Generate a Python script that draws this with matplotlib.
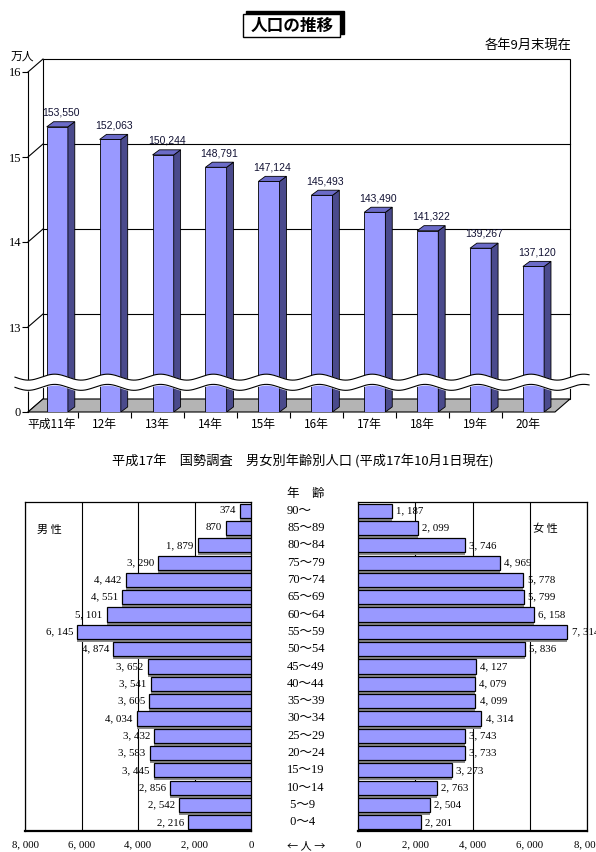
import matplotlib
matplotlib.use("Agg")
import matplotlib.pyplot as plt
import matplotlib.transforms as mtransforms
import numpy as np
from matplotlib.patches import Polygon, Rectangle

W, H = 596, 852
JP = ["Noto Sans CJK JP", "DejaVu Sans"]
SERIF = ["Liberation Serif", "Noto Sans CJK JP", "DejaVu Sans"]

# population trend (people, end of September each year)
years = ["平成11年", "12年", "13年", "14年", "15年", "16年", "17年", "18年", "19年", "20年"]
population = [153550, 152063, 150244, 148791, 147124, 145493, 143490, 141322, 139267, 137120]
ytick_vals = [0, 130000, 140000, 150000, 160000]
ytick_labels = ["0", "13", "14", "15", "16"]

# 2005 census, population by sex and age group
ages = ["90～", "85～89", "80～84", "75～79", "70～74", "65～69", "60～64", "55～59",
        "50～54", "45～49", "40～44", "35～39", "30～34", "25～29", "20～24",
        "15～19", "10～14", " 5～9", " 0～4"]
male = [374, 870, 1879, 3290, 4442, 4551, 5101, 6145, 4874, 3652, 3541, 3605,
        4034, 3432, 3583, 3445, 2856, 2542, 2216]
female = [1187, 2099, 3746, 4969, 5778, 5799, 6158, 7314, 5836, 4127, 4079, 4099,
          4314, 3743, 3733, 3273, 2763, 2504, 2201]
pyr_ticks = [0, 2000, 4000, 6000, 8000]

BAR = "#9999ff"
BAR_SIDE = "#4a4a8c"
BAR_TOP = "#6b6bc8"


def rect(l, t, r, b):
    return [l / W, 1 - b / H, (r - l) / W, (b - t) / H]


def yscale(v):
    # broken axis: 0 stays at the floor, 120,000 and above are drawn linearly
    v = np.asarray(v, dtype=float) / 10000
    return np.where(v > 0, v - 12, 0)


def fmt_jp(v):
    return f"{v:,}".replace(",", ", ")


fig = plt.figure(figsize=(W / 100, H / 100), dpi=100)

# title box with shadow
fig.patches.append(Rectangle((246 / W, 1 - 34 / H), 98 / W, 23 / H,
                             transform=fig.transFigure, fc="black", ec="black"))
fig.patches.append(Rectangle((243 / W, 1 - 37 / H), 97 / W, 23 / H,
                             transform=fig.transFigure, fc="white", ec="black", lw=1))
fig.text(292 / W, 1 - 26 / H, "人口の推移", ha="center", va="center",
         fontsize=12, fontweight="bold", family=JP)
fig.text(572 / W, 1 - 45 / H, "各年9月末現在", ha="right", va="center",
         fontsize=9.5, family=JP)

# ---- top: pseudo-3D bar chart ----
ax = fig.add_axes(rect(28, 72, 555, 412))
x0, x1 = -0.454, 9.506
ax.set_xlim(x0, x1)
ax.set_ylim(0, 4)
dx, dy = 15 / 52.9, 13 / 85       # depth of the box
bw, bdx, bdy = 0.4, 0.13, 0.06    # bar width and depth
shift = 0.1

xs = np.arange(len(years))
hts = yscale(population)

ax.add_patch(Rectangle((x0 + dx, dy), x1 - x0, 4, fc="white", ec="black",
                       lw=0.8, clip_on=False, zorder=0))
for p in yscale(ytick_vals):
    ax.plot([x0, x0 + dx], [p, p + dy], color="black", lw=0.8, clip_on=False, zorder=1)
    if 0 < p < 4:
        ax.plot([x0 + dx, x1 + dx], [p + dy, p + dy], color="black", lw=0.8,
                clip_on=False, zorder=1)
ax.add_patch(Polygon([(x0, 0), (x1, 0), (x1 + dx, dy), (x0 + dx, dy)],
                     closed=True, fc="#b4b4b4", ec="black", lw=0.8, clip_on=False, zorder=1))

for xi, h, v in zip(xs, hts, population):
    l, r = xi + shift - bw / 2, xi + shift + bw / 2
    ax.add_patch(Rectangle((l, 0), bw, h, fc=BAR, ec="black", lw=0.6, zorder=3))
    ax.add_patch(Polygon([(r, 0), (r + bdx, bdy), (r + bdx, h + bdy), (r, h)],
                         closed=True, fc=BAR_SIDE, ec="black", lw=0.6, zorder=3))
    ax.add_patch(Polygon([(l, h), (r, h), (r + bdx, h + bdy), (l + bdx, h + bdy)],
                         closed=True, fc=BAR_TOP, ec="black", lw=0.6, zorder=3))
    ax.annotate(f"{v:,}", (xi + shift + bdx / 2, h + bdy), xytext=(0, 3),
                textcoords="offset points", ha="center", va="bottom",
                fontsize=7.5, family="Liberation Sans", color="#111133")

# wavy break band
wx = np.linspace(-0.70, 10.15, 500)
wc = 0.35 + 0.035 * np.sin(2 * np.pi * (wx + 0.2))
ax.fill_between(wx, wc - 0.06, wc + 0.06, color="white", zorder=6, clip_on=False)
ax.plot(wx, wc - 0.06, color="black", lw=0.8, zorder=7, clip_on=False)
ax.plot(wx, wc + 0.06, color="black", lw=0.8, zorder=7, clip_on=False)

for s in ["top", "right", "bottom"]:
    ax.spines[s].set_visible(False)
ax.spines["left"].set_linewidth(0.8)
ax.set_yticks(yscale(ytick_vals))
ax.set_yticklabels(ytick_labels, family=SERIF, fontsize=9)
ax.tick_params(axis="y", length=4, width=0.8, pad=1)
ax.set_xticks(xs)
ax.set_xticklabels(years, family=JP, fontsize=8.5)
ax.set_xticks(xs[:-1] + 0.5, minor=True)
ax.tick_params(axis="x", which="major", length=0, pad=4)
ax.tick_params(axis="x", which="minor", length=4, width=0.8)
ax.patch.set_visible(False)
fig.text(22 / W, 1 - 56 / H, "万人", ha="center", va="center", fontsize=8.5, family=JP)

# ---- bottom: population pyramid ----
fig.text(303 / W, 1 - 461 / H,
         "平成17年　国勢調査　男女別年齢別人口 (平成17年10月1日現在)",
         ha="center", va="center", fontsize=9.5, family=JP)

axL = fig.add_axes(rect(25, 502, 251, 831))
axR = fig.add_axes(rect(358, 502, 587, 831))
rows = np.arange(len(ages))
shadow = mtransforms.ScaledTranslation(0, -3 / 100, fig.dpi_scale_trans)

for a, vals, side in [(axL, male, -1), (axR, female, 1)]:
    a.barh(rows, vals, height=0.82, color="#8c8c8c", transform=a.transData + shadow, zorder=2)
    a.barh(rows, vals, height=0.82, color=BAR, edgecolor="black", lw=0.9, zorder=3)
    for yi, v in zip(rows, vals):
        a.annotate(fmt_jp(v), (v, yi), xytext=(3 * side, 0), textcoords="offset points",
                   ha="left" if side > 0 else "right", va="center",
                   fontsize=7.8, family=SERIF, zorder=4, annotation_clip=False)
    a.set_ylim(len(ages) - 0.5, -0.5)
    a.set_yticks([])
    a.set_xticks(pyr_ticks)
    a.set_xticklabels([fmt_jp(t) for t in pyr_ticks], family=SERIF, fontsize=7.8)
    a.tick_params(axis="x", length=0, pad=7)
    a.grid(axis="x", color="black", lw=0.8, zorder=1)
    a.set_axisbelow(True)
    for s in a.spines.values():
        s.set_linewidth(0.9)
    a.spines["bottom"].set_linewidth(1.6)

axL.set_xlim(8000, 0)
axR.set_xlim(0, 8000)
axL.text(0.11, 0.915, "男 性", transform=axL.transAxes, ha="center", va="center",
         fontsize=8, family=JP)
axR.text(0.817, 0.92, "女 性", transform=axR.transAxes, ha="center", va="center",
         fontsize=8, family=JP)

age_tr = mtransforms.blended_transform_factory(fig.transFigure, axL.transData)
for yi, lab in zip(rows, ages):
    fig.text(287 / W, yi, lab, transform=age_tr, ha="left", va="center",
             fontsize=9, family=SERIF)
fig.text(306 / W, -1, "年　齢", transform=age_tr, ha="center", va="center",
         fontsize=9, family=JP)
fig.text(306 / W, 1 - 846 / H, "← 人 →", ha="center", va="center",
         fontsize=8, family=JP)

fig.savefig("out.png", dpi=100)
